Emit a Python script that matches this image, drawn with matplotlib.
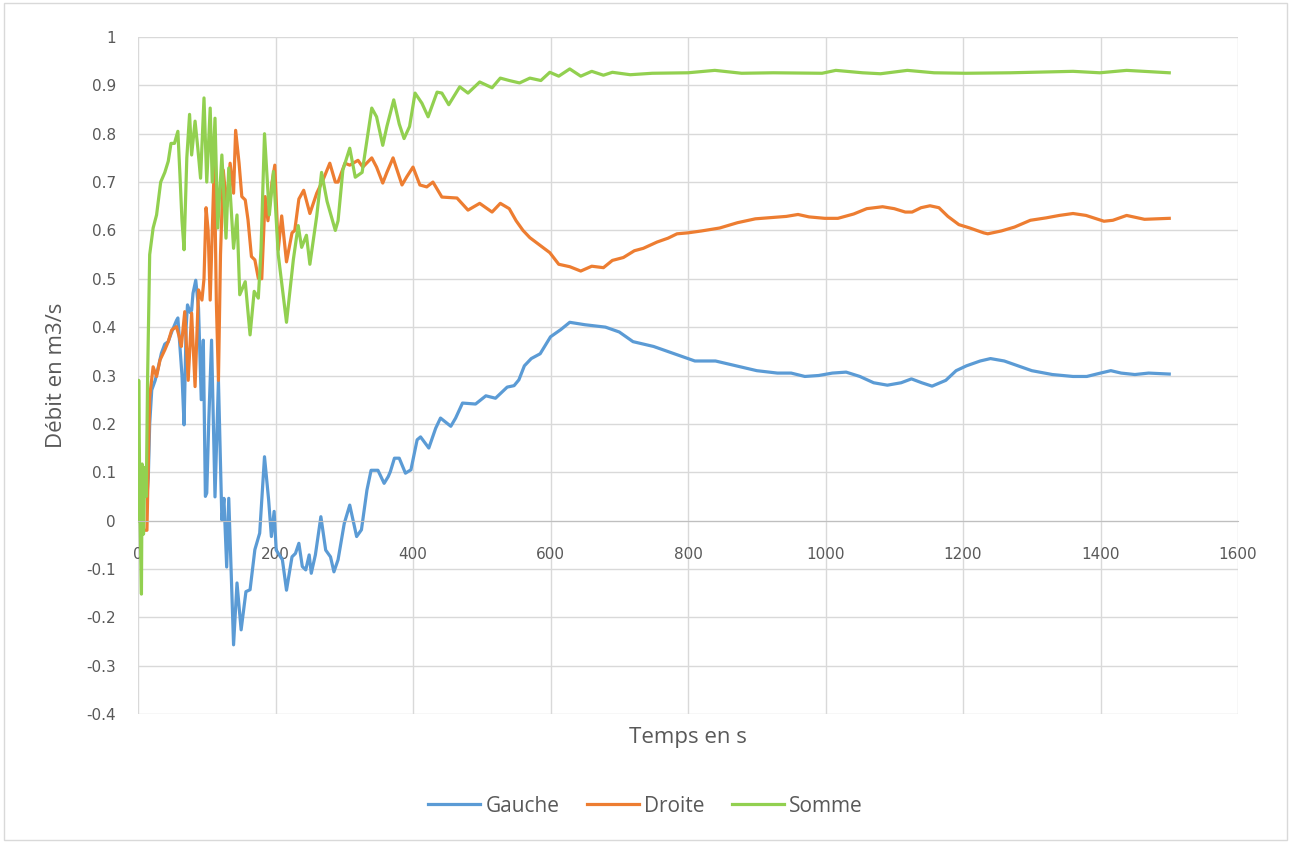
import matplotlib.pyplot as plt
from matplotlib.patches import Rectangle

# %% data
t_gauche = [0, 5, 10, 13, 15, 17, 20, 25, 30, 34, 39, 44, 49, 56, 58, 61, 64, 67, 70, 72,
            76, 78, 80, 84, 88, 92, 95, 98, 100, 103, 107, 112, 117, 122, 125, 129, 132,
            139, 144, 150, 157, 163, 170, 177, 184, 190, 194, 198, 201, 210, 216, 224,
            229, 234, 239, 244, 249, 252, 258, 266, 273, 280, 285, 291, 300, 308, 318,
            325, 333, 339, 349, 358, 364, 367, 373, 380, 389, 397, 406, 411, 423, 433,
            440, 455, 462, 472, 491, 506, 520, 537, 547, 554, 562, 572, 585, 600, 615,
            628, 650, 680, 700, 720, 750, 770, 790, 810, 840, 870, 900, 930, 950, 970,
            990, 1010, 1030, 1050, 1070, 1090, 1110, 1125, 1140, 1155, 1175, 1190, 1205,
            1225, 1240, 1260, 1280, 1300, 1330, 1360, 1380, 1400, 1415, 1430, 1450, 1470,
            1500]
v_gauche = [0.0, 0.08, 0.1, 0.05, 0.09, 0.2, 0.27, 0.29, 0.32, 0.346, 0.365, 0.37, 0.39,
            0.414, 0.419, 0.36, 0.3, 0.198, 0.4, 0.446, 0.43, 0.435, 0.47, 0.497, 0.44,
            0.25, 0.373, 0.05, 0.057, 0.208, 0.373, 0.049, 0.29, 0.001, 0.046, -0.096,
            0.046, -0.257, -0.129, -0.226, -0.147, -0.143, -0.06, -0.026, 0.132, 0.043,
            -0.033, 0.019, -0.061, -0.081, -0.144, -0.075, -0.068, -0.047, -0.095, -0.102,
            -0.071, -0.109, -0.071, 0.008, -0.061, -0.075, -0.106, -0.081, -0.006, 0.032,
            -0.033, -0.019, 0.063, 0.104, 0.104, 0.077, 0.091, 0.101, 0.129, 0.129, 0.098,
            0.105, 0.167, 0.173, 0.150, 0.191, 0.212, 0.195, 0.212, 0.243, 0.241, 0.258,
            0.253, 0.276, 0.279, 0.291, 0.32, 0.335, 0.345, 0.38, 0.395, 0.41, 0.405, 0.40,
            0.39, 0.37, 0.36, 0.35, 0.34, 0.33, 0.33, 0.32, 0.31, 0.305, 0.305, 0.298,
            0.30, 0.305, 0.307, 0.298, 0.285, 0.28, 0.285, 0.293, 0.285, 0.278, 0.29, 0.31,
            0.32, 0.33, 0.335, 0.33, 0.32, 0.31, 0.302, 0.298, 0.298, 0.305, 0.31, 0.305,
            0.302, 0.305, 0.303]

t_droite = [0, 3, 8, 13, 17, 22, 27, 32, 39, 44, 49, 56, 60, 63, 68, 73, 78, 83, 88, 93,
            96, 99, 102, 105, 108, 111, 114, 117, 120, 124, 129, 134, 139, 142, 147, 151,
            156, 160, 165, 170, 175, 180, 185, 189, 195, 199, 204, 209, 216, 224, 228,
            234, 241, 250, 260, 269, 279, 287, 291, 301, 308, 320, 327, 340, 347, 356,
            362, 371, 384, 391, 400, 410, 420, 429, 442, 464, 480, 497, 515, 527, 540,
            550, 560, 570, 586, 599, 612, 628, 644, 660, 677, 690, 706, 722, 735, 755,
            771, 784, 800, 820, 846, 872, 898, 924, 943, 960, 976, 999, 1018, 1041, 1060,
            1083, 1100, 1116, 1126, 1139, 1152, 1165, 1178, 1194, 1210, 1230, 1236, 1256,
            1275, 1298, 1321, 1340, 1360, 1379, 1405, 1418, 1438, 1464, 1500]
v_droite = [0.0, 0.0, -0.02, -0.02, 0.256, 0.318, 0.298, 0.332, 0.353, 0.37, 0.394, 0.401,
            0.38, 0.36, 0.432, 0.29, 0.429, 0.277, 0.477, 0.456, 0.5, 0.647, 0.6, 0.456,
            0.6, 0.74, 0.45, 0.29, 0.55, 0.725, 0.649, 0.739, 0.677, 0.807, 0.739, 0.67,
            0.663, 0.622, 0.546, 0.539, 0.501, 0.5, 0.67, 0.62, 0.70, 0.735, 0.56, 0.63,
            0.535, 0.595, 0.6, 0.665, 0.683, 0.635, 0.677, 0.704, 0.739, 0.70, 0.70, 0.739,
            0.735, 0.745, 0.731, 0.75, 0.731, 0.698, 0.72, 0.75, 0.694, 0.711, 0.731, 0.694,
            0.69, 0.70, 0.669, 0.667, 0.642, 0.656, 0.638, 0.656, 0.645, 0.62, 0.60, 0.585,
            0.568, 0.554, 0.530, 0.525, 0.516, 0.526, 0.523, 0.538, 0.544, 0.558, 0.563,
            0.576, 0.584, 0.593, 0.595, 0.599, 0.605, 0.616, 0.624, 0.627, 0.629, 0.633,
            0.628, 0.625, 0.625, 0.634, 0.645, 0.649, 0.645, 0.638, 0.638, 0.647, 0.651,
            0.647, 0.629, 0.612, 0.605, 0.595, 0.593, 0.599, 0.607, 0.621, 0.626, 0.631,
            0.635, 0.631, 0.619, 0.621, 0.631, 0.623, 0.625]

t_somme = [0, 1, 3, 5, 6, 8, 10, 12, 14, 17, 22, 27, 33, 39, 44, 48, 53, 58, 61, 64, 67,
           71, 75, 78, 83, 87, 91, 96, 100, 105, 108, 112, 116, 122, 128, 132, 139, 144,
           148, 156, 163, 169, 175, 179, 184, 191, 197, 204, 216, 226, 233, 238, 245, 250,
           260, 267, 275, 287, 291, 298, 308, 316, 326, 340, 347, 356, 362, 372, 380, 387,
           395, 403, 413, 422, 435, 442, 452, 468, 480, 497, 515, 527, 540, 555, 570, 586,
           599, 612, 628, 644, 660, 677, 690, 716, 748, 800, 839, 878, 924, 995, 1015,
           1054, 1080, 1119, 1158, 1204, 1269, 1360, 1399, 1438, 1500]
v_somme = [0.0, 0.29, 0.0, -0.152, 0.117, -0.028, 0.11, 0.05, 0.3, 0.55, 0.605, 0.632, 0.70,
           0.72, 0.743, 0.78, 0.78, 0.805, 0.715, 0.62, 0.56, 0.75, 0.84, 0.756, 0.826, 0.77,
           0.708, 0.874, 0.70, 0.853, 0.70, 0.832, 0.605, 0.756, 0.584, 0.729, 0.563, 0.632,
           0.467, 0.494, 0.384, 0.474, 0.46, 0.563, 0.80, 0.632, 0.722, 0.55, 0.41, 0.54,
           0.61, 0.565, 0.59, 0.53, 0.63, 0.72, 0.66, 0.60, 0.62, 0.725, 0.77, 0.71, 0.72,
           0.853, 0.835, 0.776, 0.815, 0.87, 0.82, 0.79, 0.815, 0.884, 0.863, 0.835, 0.886,
           0.884, 0.86, 0.897, 0.884, 0.907, 0.895, 0.915, 0.91, 0.905, 0.915, 0.91, 0.927,
           0.919, 0.934, 0.919, 0.929, 0.921, 0.927, 0.922, 0.925, 0.926, 0.931, 0.925,
           0.926, 0.925, 0.931, 0.926, 0.924, 0.931, 0.926, 0.925, 0.926, 0.929, 0.926,
           0.931, 0.926]

x_ticks = [0, 200, 400, 600, 800, 1000, 1200, 1400, 1600]
y_ticks = [-0.4, -0.3, -0.2, -0.1, 0, 0.1, 0.2, 0.3, 0.4, 0.5, 0.6, 0.7, 0.8, 0.9, 1]
y_labels = ['-0.4', '-0.3', '-0.2', '-0.1', '0', '0.1', '0.2', '0.3', '0.4', '0.5',
            '0.6', '0.7', '0.8', '0.9', '1']

# %% figure
fig = plt.figure(figsize=(12.91, 8.43), dpi=100)
fig.patches.append(Rectangle((0.003, 0.003), 0.994, 0.993, transform=fig.transFigure,
                             fill=False, edgecolor='#D9D9D9', linewidth=1))
ax = fig.add_axes([138/1291, 1-714/843, 1100/1291, 677/843])

ax.plot(t_gauche, v_gauche, color='#5B9BD5', lw=2.3, label='Gauche', solid_joinstyle='round')
ax.plot(t_droite, v_droite, color='#ED7D31', lw=2.3, label='Droite', solid_joinstyle='round')
ax.plot(t_somme, v_somme, color='#92D050', lw=2.3, label='Somme', solid_joinstyle='round')

ax.set_xlim(0, 1600)
ax.set_ylim(-0.4, 1)
ax.set_xticks(x_ticks)
ax.set_yticks(y_ticks)
ax.set_yticklabels(y_labels)
ax.grid(True, color='#D9D9D9', lw=1)
ax.set_axisbelow(True)
for s in ['top', 'right', 'left']:
    ax.spines[s].set_visible(False)
ax.spines['bottom'].set_position(('data', 0))
ax.spines['bottom'].set_color('#BFBFBF')
ax.tick_params(axis='both', length=0, labelsize=11, labelcolor='#595959')
ax.tick_params(axis='x', pad=19)
ax.tick_params(axis='y', pad=16)

fig.text(688/1291, 1-738/843, 'Temps en s', ha='center', va='center',
         fontsize=16, color='#595959', family='Open Sans')
fig.text(57/1291, 1-375/843, 'Débit en m3/s', ha='center', va='center', rotation=90,
         fontsize=16, color='#595959', family='Open Sans')

fig.legend(loc='center', bbox_to_anchor=(0.5, 1-806/843), ncol=3, frameon=False,
           prop={'family': 'Open Sans', 'size': 15}, labelcolor='#595959',
           handlelength=2.5, handletextpad=0.25, columnspacing=1.3)

fig.savefig('out.png', dpi=100)
